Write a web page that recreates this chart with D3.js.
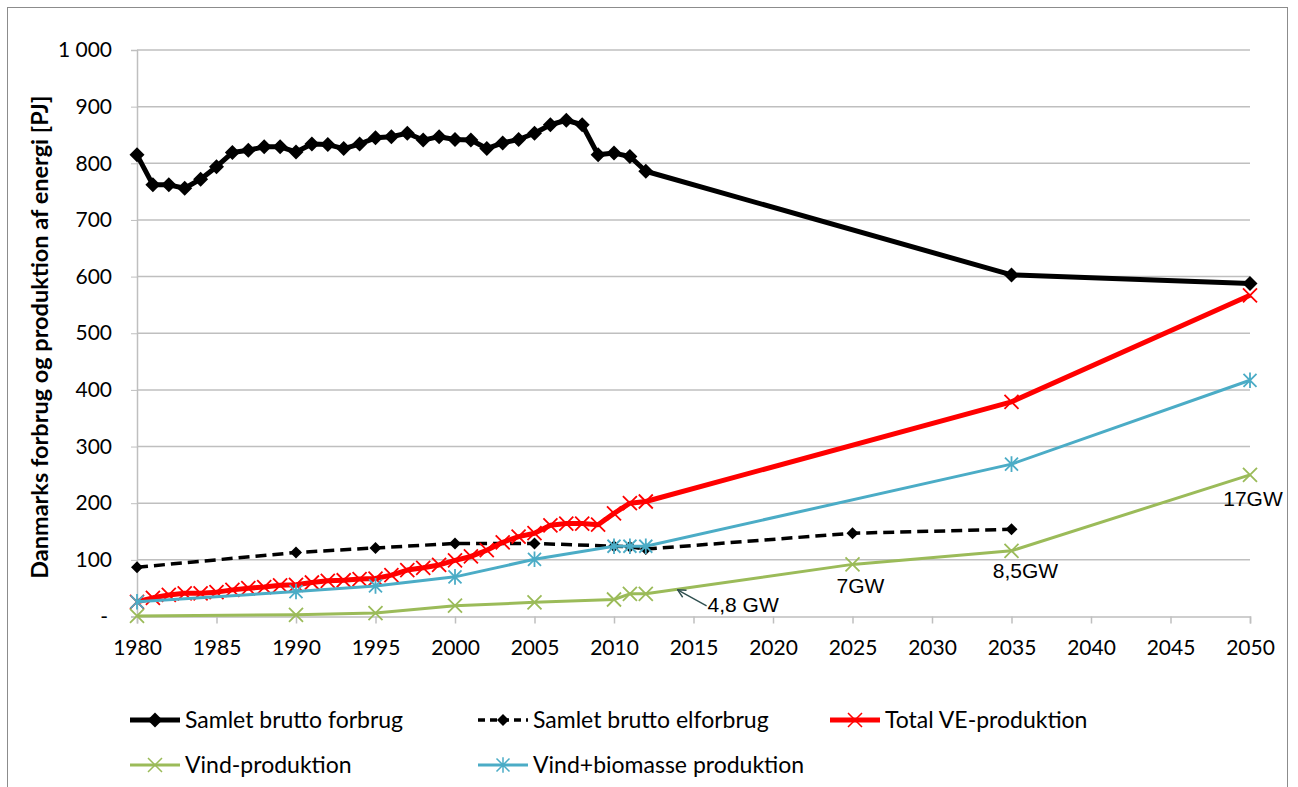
<!DOCTYPE html>
<html>
<head>
<meta charset="utf-8">
<script src="https://cdn.jsdelivr.net/npm/d3@7"></script>
<style>
  body { margin: 0; background: #fff; }
  svg { display: block; }
</style>
</head>
<body>
<svg id="chart"></svg>
<script>
// Yearly observations 1980-2012, followed by the scenario years
const annualYears = [1980, 1981, 1982, 1983, 1984, 1985, 1986, 1987, 1988, 1989,
  1990, 1991, 1992, 1993, 1994, 1995, 1996, 1997, 1998, 1999,
  2000, 2001, 2002, 2003, 2004, 2005, 2006, 2007, 2008, 2009,
  2010, 2011, 2012];
const scenarioYears = [2035, 2050];

const forbrugValues = [815, 762, 762, 756, 772, 794, 819, 823, 829, 829,
  820, 834, 833, 826, 834, 845, 847, 853, 841, 847,
  842, 841, 826, 836, 842, 853, 868, 876, 868, 815,
  818, 812, 786, 603, 588];

const veValues = [26, 33, 38, 41, 41, 43, 47, 50, 52, 55,
  56, 60, 63, 64, 66, 67, 73, 82, 86, 91,
  99, 106, 117, 131, 141, 147, 161, 164, 164, 162,
  182, 200, 203, 379, 567];

const elYears = [1980, 1990, 1995, 2000, 2005, 2010, 2011, 2012, 2025, 2035];
const elValues = [87, 113, 121, 129, 129, 124, 123, 119, 147, 154];

const vindYears = [1980, 1990, 1995, 2000, 2005, 2010, 2011, 2012, 2025, 2035, 2050];
const vindValues = [1, 3, 6, 19, 25, 30, 40, 40, 92, 116, 250];

const biomasseYears = [1980, 1990, 1995, 2000, 2005, 2010, 2011, 2012, 2035, 2050];
const biomasseValues = [26, 44, 54, 70, 101, 124, 124, 124, 269, 417];

const xTicks = [1980, 1985, 1990, 1995, 2000, 2005, 2010, 2015, 2020, 2025, 2030, 2035, 2040, 2045, 2050];
const yTicks = [0, 100, 200, 300, 400, 500, 600, 700, 800, 900, 1000];

// Capacity labels on the wind series
const gwYears = [2025, 2035, 2050];
const gwTexts = ["7GW", "8,5GW", "17GW"];
const arrowYear = 2014;
const arrowValue = 47;
const arrowText = "4,8 GW";

const width = 1298;
const height = 787;
const margin = { top: 50, right: 48, bottom: 170.5, left: 137 };

const svg = d3.select("#chart")
  .attr("width", width)
  .attr("height", height);

// Chart border
svg.append("rect")
  .attr("x", 7.5).attr("y", 7.5)
  .attr("width", 1280).attr("height", 800)
  .attr("fill", "none")
  .attr("stroke", "#8c8c8c")
  .attr("stroke-width", 1);

const x = d3.scaleLinear()
  .domain([1980, 2050])
  .range([margin.left, width - margin.right]);

const y = d3.scaleLinear()
  .domain([0, 1000])
  .range([height - margin.bottom, margin.top]);

const gridColor = "#bfbfbf";
const axisFont = "Lato, 'Open Sans', sans-serif";

// Horizontal gridlines
svg.append("g")
  .selectAll("line")
  .data(yTicks.filter(d => d > 0))
  .join("line")
  .attr("x1", x(1980)).attr("x2", x(2050))
  .attr("y1", d => y(d)).attr("y2", d => y(d))
  .attr("stroke", gridColor)
  .attr("stroke-width", 1.5);

// Y axis
const yAxis = d3.axisLeft(y)
  .tickValues(yTicks)
  .tickSize(6)
  .tickPadding(19)
  .tickFormat(d => d === 0 ? "-" : d3.format(",")(d).replace(",", " "));

const yg = svg.append("g")
  .attr("transform", `translate(${x(1980)},0)`)
  .call(yAxis);
yg.select(".domain").attr("stroke", gridColor).attr("stroke-width", 1.5);
yg.selectAll(".tick line").attr("stroke", gridColor).attr("stroke-width", 1);
yg.selectAll(".tick text")
  .attr("fill", "#000")
  .style("font-family", axisFont)
  .style("font-size", "21px")
  .attr("dx", d => d === 0 ? "-4" : "0");

// X axis
const xAxis = d3.axisBottom(x)
  .tickValues(xTicks)
  .tickSize(7)
  .tickPadding(17)
  .tickFormat(d3.format("d"));

const xg = svg.append("g")
  .attr("transform", `translate(0,${y(0)})`)
  .call(xAxis);
xg.select(".domain").attr("stroke", gridColor).attr("stroke-width", 1.5);
xg.selectAll(".tick line").attr("stroke", gridColor).attr("stroke-width", 1.5);
xg.selectAll(".tick text")
  .attr("fill", "#000")
  .style("font-family", axisFont)
  .style("font-size", "21px");

// Y axis title
svg.append("text")
  .attr("transform", `translate(48,${(y(0) + y(1000)) / 2 + 4}) rotate(-90)`)
  .attr("text-anchor", "middle")
  .style("font-family", axisFont)
  .style("font-size", "23.5px")
  .style("font-weight", "bold")
  .text("Danmarks forbrug og produktion af energi [PJ]");

// Marker shapes
function markerPath(type, r) {
  if (type === "diamond") return `M0,${-r}L${r},0L0,${r}L${-r},0Z`;
  if (type === "x") return `M${-r},${-r}L${r},${r}M${-r},${r}L${r},${-r}`;
  if (type === "star") return `M${-r},${-r}L${r},${r}M${-r},${r}L${r},${-r}M0,${-r * 1.2}L0,${r * 1.2}`;
  return "";
}

const allYears = annualYears.concat(scenarioYears);

const series = [
  { name: "Samlet brutto forbrug", years: allYears, values: forbrugValues,
    color: "#000", width: 5, dash: null, marker: "diamond", size: 7.5 },
  { name: "Samlet brutto elforbrug", years: elYears, values: elValues,
    color: "#000", width: 3.5, dash: "11,6", marker: "diamond", size: 6 },
  { name: "Total VE-produktion", years: allYears, values: veValues,
    color: "#ff0000", width: 5, dash: null, marker: "x", size: 7 },
  { name: "Vind-produktion", years: vindYears, values: vindValues,
    color: "#9bbb59", width: 3, dash: null, marker: "x", size: 7 },
  { name: "Vind+biomasse produktion", years: biomasseYears, values: biomasseValues,
    color: "#4bacc6", width: 3, dash: null, marker: "star", size: 6.5 }
];

const line = d3.line()
  .x(d => x(d[0]))
  .y(d => y(d[1]));

series.forEach(s => {
  const pts = s.years.map((yr, i) => [yr, s.values[i]]);
  const g = svg.append("g");
  g.append("path")
    .datum(pts)
    .attr("d", line)
    .attr("fill", "none")
    .attr("stroke", s.color)
    .attr("stroke-width", s.width)
    .attr("stroke-linejoin", "round")
    .attr("stroke-dasharray", s.dash);
  g.selectAll(".mk")
    .data(pts)
    .join("path")
    .attr("class", "mk")
    .attr("transform", d => `translate(${x(d[0])},${y(d[1])})`)
    .attr("d", markerPath(s.marker, s.size))
    .attr("fill", s.marker === "diamond" ? s.color : "none")
    .attr("stroke", s.color)
    .attr("stroke-width", s.marker === "diamond" ? 0 : 1.8);
});

// Capacity labels
const labelFont = "'Liberation Sans', Arial, sans-serif";
const gwOffsets = [[8, 29], [14, 27], [3, 31]];
gwYears.forEach((yr, i) => {
  const v = vindValues[vindYears.indexOf(yr)];
  svg.append("text")
    .attr("x", x(yr) + gwOffsets[i][0])
    .attr("y", y(v) + gwOffsets[i][1])
    .attr("text-anchor", "middle")
    .style("font-family", labelFont)
    .style("font-size", "21px")
    .text(gwTexts[i]);
});

// 4,8 GW arrow annotation
svg.append("defs").append("marker")
  .attr("id", "arrowhead")
  .attr("viewBox", "0 0 10 10")
  .attr("refX", 9).attr("refY", 5)
  .attr("markerWidth", 10).attr("markerHeight", 10)
  .attr("markerUnits", "userSpaceOnUse")
  .attr("orient", "auto")
  .append("path")
  .attr("d", "M1,1L9,5L1,9")
  .attr("fill", "none")
  .attr("stroke", "#2f4f4f")
  .attr("stroke-width", 1.4);

const ax = x(arrowYear), ay = y(arrowValue);
svg.append("line")
  .attr("x1", ax + 29).attr("y1", ay + 16)
  .attr("x2", ax).attr("y2", ay)
  .attr("stroke", "#2f4f4f")
  .attr("stroke-width", 1.4)
  .attr("marker-end", "url(#arrowhead)");

svg.append("text")
  .attr("x", ax + 30)
  .attr("y", ay + 22)
  .style("font-family", labelFont)
  .style("font-size", "21px")
  .text(arrowText);

// Legend
const legendCols = [130, 478, 830];
const legendRows = [720, 765];
series.forEach((s, i) => {
  const lx = legendCols[i % 3];
  const ly = legendRows[Math.floor(i / 3)];
  const g = svg.append("g").attr("transform", `translate(${lx},${ly})`);
  g.append("line")
    .attr("x1", 0).attr("x2", 50)
    .attr("y1", 0).attr("y2", 0)
    .attr("stroke", s.color)
    .attr("stroke-width", s.width)
    .attr("stroke-dasharray", s.dash ? "7,5" : null);
  g.append("path")
    .attr("transform", "translate(25,0)")
    .attr("d", markerPath(s.marker, s.size))
    .attr("fill", s.marker === "diamond" ? s.color : "none")
    .attr("stroke", s.color)
    .attr("stroke-width", s.marker === "diamond" ? 0 : 1.5);
  g.append("text")
    .attr("x", 55)
    .attr("y", 0)
    .attr("dy", "0.35em")
    .style("font-family", axisFont)
    .style("font-size", "23px")
    .text(s.name);
});
</script>
</body>
</html>
